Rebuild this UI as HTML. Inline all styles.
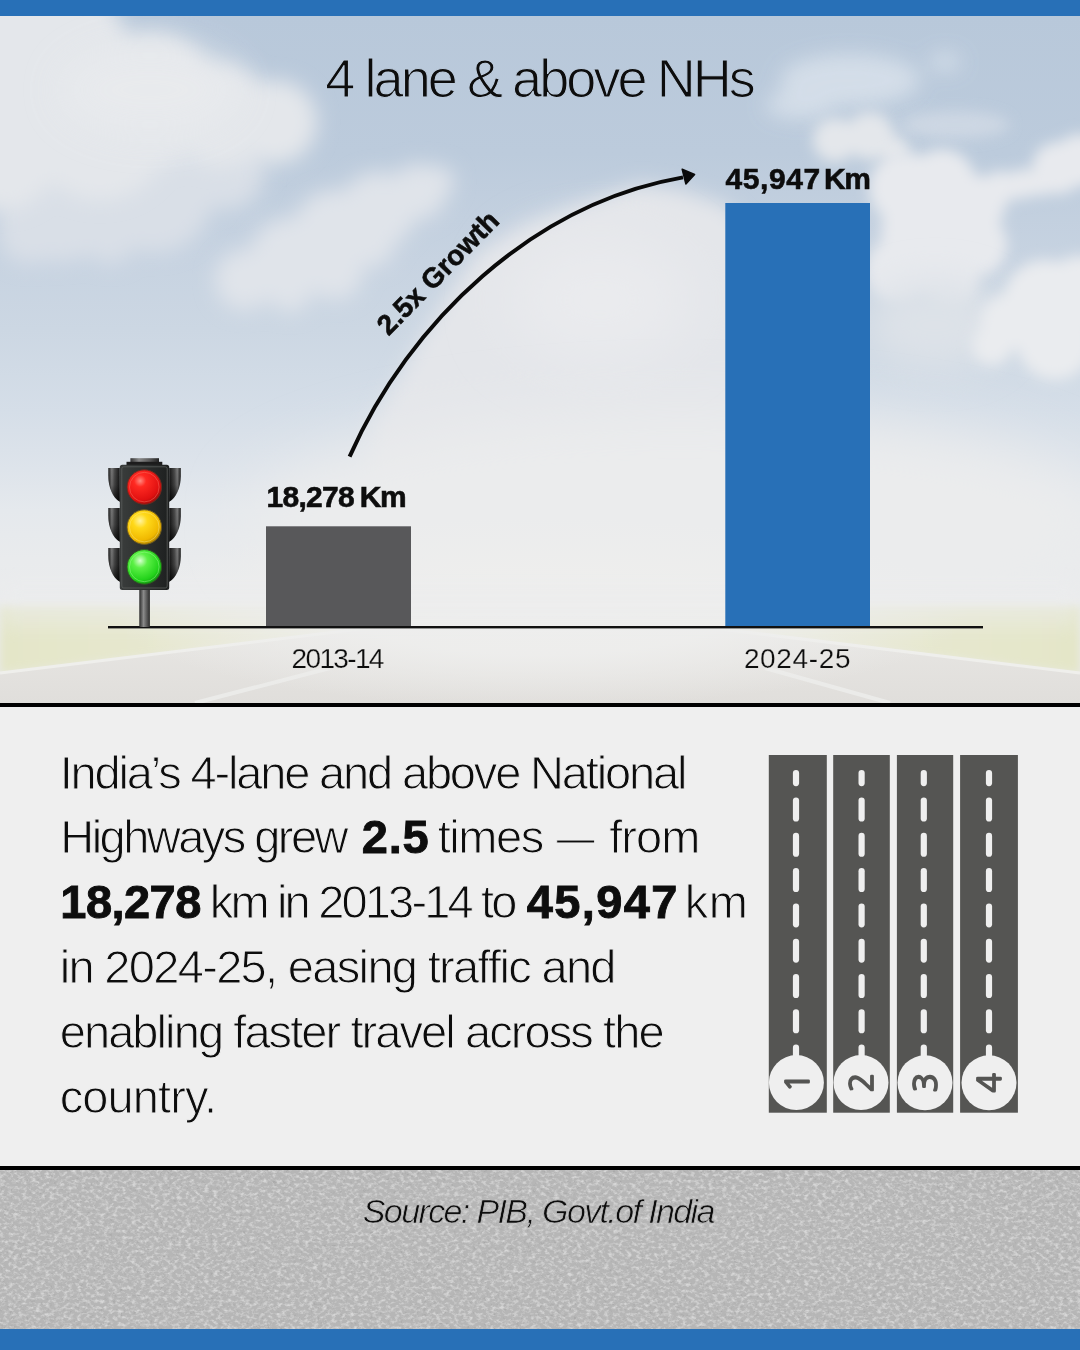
<!DOCTYPE html>
<html><head><meta charset="utf-8"><title>4 lane &amp; above NHs</title>
<style>
*{box-sizing:border-box;margin:0;padding:0}
html,body{width:1080px;height:1350px;overflow:hidden;background:#efefef}
body{position:relative;font-family:"Liberation Sans",Arial,sans-serif;color:#111}
.abs{position:absolute}
#hero svg{left:0;top:0}
#topbar{left:0;top:0;width:1080px;height:16px;background:#2870b7}
#hero{left:0;top:16px;width:1080px;height:687px;overflow:hidden;background:linear-gradient(180deg,#b9cbe0 0px,#c3d2e3 200px,#d6dfe9 380px,#e6eaee 520px,#eceeef 600px,#e9e9e6 700px)}
#rule1{left:0;top:703px;width:1080px;height:4px;background:#000}
#mid{left:0;top:707px;width:1080px;height:459px;background:#efefef}
#rule2{left:0;top:1166px;width:1080px;height:4px;background:#000}
#foot{left:0;top:1170px;width:1080px;height:159px;background:#b1b1b1;overflow:hidden}
#botbar{left:0;top:1329px;width:1080px;height:21px;background:#2870b7}
.t{position:absolute;white-space:nowrap;line-height:1}
</style></head>
<body>
<div id="topbar" class="abs"></div>
<div id="hero" class="abs"><svg class="abs" style="left:0;top:0" width="1080" height="687" viewBox="0 16 1080 687">
<defs>
<linearGradient id="sky" x1="0" y1="16" x2="0" y2="703" gradientUnits="userSpaceOnUse">
<stop offset="0" stop-color="#b8c8da"/>
<stop offset="0.2" stop-color="#bccbdc"/>
<stop offset="0.355" stop-color="#c7d3e1"/>
<stop offset="0.457" stop-color="#ccd7e3"/>
<stop offset="0.575" stop-color="#d5dee8"/>
<stop offset="0.66" stop-color="#dee4eb"/>
<stop offset="0.72" stop-color="#e5e9ed"/>
<stop offset="0.79" stop-color="#e9ebed"/>
<stop offset="0.86" stop-color="#ebeced"/>
<stop offset="1" stop-color="#e9e9e8"/>
</linearGradient>
<filter id="b30" x="-50%" y="-50%" width="200%" height="200%"><feGaussianBlur stdDeviation="30"/></filter>
<filter id="b18" x="-50%" y="-50%" width="200%" height="200%"><feGaussianBlur stdDeviation="18"/></filter>
<filter id="b10" x="-50%" y="-50%" width="200%" height="200%"><feGaussianBlur stdDeviation="10"/></filter>
<filter id="b7" x="-50%" y="-50%" width="200%" height="200%"><feGaussianBlur stdDeviation="7"/></filter>
<filter id="b4" x="-50%" y="-50%" width="200%" height="200%"><feGaussianBlur stdDeviation="4"/></filter>
<filter id="b2" x="-50%" y="-50%" width="200%" height="200%"><feGaussianBlur stdDeviation="1.5"/></filter>
</defs>
<rect x="0" y="16" width="1080" height="687" fill="url(#sky)"/>
<!-- cloud A -->
<g fill="#d9dfe7" filter="url(#b10)">
<circle cx="60" cy="200" r="62"/><circle cx="155" cy="195" r="58"/><circle cx="225" cy="170" r="40"/><circle cx="30" cy="232" r="32"/><circle cx="110" cy="238" r="26"/>
</g>
<g fill="#e4e7eb" filter="url(#b10)">
<circle cx="40" cy="60" r="90"/><circle cx="150" cy="100" r="68"/><circle cx="220" cy="115" r="52"/><circle cx="275" cy="122" r="42"/><circle cx="100" cy="130" r="70"/><circle cx="0" cy="150" r="60"/>
</g>
<g fill="#e9ebee" opacity="0.8" filter="url(#b18)"><ellipse cx="150" cy="90" rx="90" ry="45"/></g>
<!-- cloud B -->
<g fill="#e0e4ea" filter="url(#b10)">
<circle cx="245" cy="280" r="30"/><circle cx="290" cy="258" r="40"/><circle cx="335" cy="232" r="42"/><circle cx="378" cy="210" r="38"/><circle cx="418" cy="192" r="28"/><circle cx="438" cy="182" r="16"/>
<circle cx="290" cy="290" r="22"/><circle cx="335" cy="272" r="28"/><circle cx="372" cy="245" r="22"/>
</g>
<!-- right wisps -->
<g fill="#d7e0ea" opacity="0.9" filter="url(#b10)"><ellipse cx="850" cy="80" rx="70" ry="26"/><ellipse cx="800" cy="105" rx="35" ry="14"/><ellipse cx="945" cy="62" rx="16" ry="9"/></g>
<g fill="#d5dde7" opacity="0.7" filter="url(#b7)"><ellipse cx="955" cy="125" rx="55" ry="14"/></g>
<!-- cloud D -->
<g fill="#e4e7eb" filter="url(#b7)">
<circle cx="835" cy="140" r="22"/><circle cx="870" cy="136" r="24"/><circle cx="895" cy="150" r="14"/>
</g>
<!-- cloud 1 (right bank) -->
<g fill="#e8eaee" filter="url(#b7)">
<circle cx="905" cy="188" r="36"/><circle cx="942" cy="182" r="33"/><circle cx="975" cy="205" r="30"/>
<circle cx="925" cy="232" r="44"/><circle cx="975" cy="245" r="32"/><circle cx="900" cy="270" r="34"/><circle cx="950" cy="282" r="28"/>
<circle cx="1058" cy="168" r="26"/><circle cx="1000" cy="188" r="17"/><circle cx="1022" cy="184" r="15"/><circle cx="1080" cy="160" r="26"/><circle cx="1040" cy="182" r="14"/>
</g>
<g fill="#dde2e8" filter="url(#b18)"><ellipse cx="935" cy="325" rx="70" ry="45"/></g>
<!-- cloud 2 (lower right) -->
<g fill="#eaecef" filter="url(#b7)">
<circle cx="1045" cy="302" r="42"/><circle cx="1080" cy="292" r="36"/><circle cx="1008" cy="322" r="28"/><circle cx="992" cy="345" r="20"/><circle cx="1055" cy="342" r="38"/>
</g>
<!-- cloud G -->
<g fill="#e4e6ea" filter="url(#b10)">
<path d="M370,430 L420,340 L447,296 L479,252 L526,224 L576,205 L639,184 L680,190 L725,205 L760,240 L760,620 L370,620 Z"/>
</g>
<g fill="#eaebee" filter="url(#b30)"><ellipse cx="600" cy="300" rx="90" ry="60"/></g>
<!-- haze -->
<g fill="#ebeced" filter="url(#b30)"><ellipse cx="680" cy="520" rx="430" ry="110"/></g>
<!-- ground -->
<defs>
<radialGradient id="haze" cx="540" cy="612" r="430" gradientUnits="userSpaceOnUse" gradientTransform="translate(540 612) scale(1 0.22) translate(-540 -612)">
<stop offset="0" stop-color="#eeeeed" stop-opacity="1"/>
<stop offset="0.45" stop-color="#eeeeed" stop-opacity="0.9"/>
<stop offset="1" stop-color="#eeeeed" stop-opacity="0"/>
</radialGradient>
<linearGradient id="grassL" x1="0" y1="0" x2="540" y2="0" gradientUnits="userSpaceOnUse"><stop offset="0" stop-color="#e4e6c8"/><stop offset="0.6" stop-color="#e9e9d6"/><stop offset="1" stop-color="#ecece6"/></linearGradient>
<linearGradient id="grassR" x1="1080" y1="0" x2="540" y2="0" gradientUnits="userSpaceOnUse"><stop offset="0" stop-color="#e4e6c8"/><stop offset="0.6" stop-color="#e9e9d6"/><stop offset="1" stop-color="#ecece6"/></linearGradient>
<linearGradient id="road" x1="0" y1="606" x2="0" y2="703" gradientUnits="userSpaceOnUse"><stop offset="0" stop-color="#eae9e6"/><stop offset="1" stop-color="#e0dedb"/></linearGradient>
</defs>
<g>
<polygon points="0,606 540,606 540,612 0,674" fill="url(#grassL)" filter="url(#b4)"/>
<polygon points="1080,606 540,606 540,612 1080,674" fill="url(#grassR)" filter="url(#b4)"/>
<polygon points="0,674 540,607 1080,674 1080,703 0,703" fill="url(#road)"/>
<line x1="0" y1="673" x2="540" y2="607" stroke="#efefec" stroke-width="3"/>
<line x1="1080" y1="673" x2="540" y2="607" stroke="#efefec" stroke-width="3"/>
<line x1="195" y1="703" x2="330" y2="668" stroke="#ebebe9" stroke-width="4"/>
<line x1="765" y1="668" x2="890" y2="703" stroke="#ebebe9" stroke-width="4"/>
<rect x="0" y="520" width="1080" height="183" fill="url(#haze)"/>
<rect x="0" y="585" width="1080" height="40" fill="#ecedee" opacity="0.5" filter="url(#b10)"/>
</g>
</svg>
</div>
<div id="rule1" class="abs"></div>
<div id="mid" class="abs"></div>
<div id="rule2" class="abs"></div>
<div id="foot" class="abs"><svg width="1080" height="159" viewBox="0 0 1080 159" style="display:block">
<defs>
<filter id="asphL" x="0" y="0" width="100%" height="100%" color-interpolation-filters="sRGB">
<feTurbulence type="fractalNoise" baseFrequency="0.22 0.3" numOctaves="3" seed="7"/>
<feColorMatrix type="matrix" values="0 0 0 0 0.86  0 0 0 0 0.86  0 0 0 0 0.86  2.6 0 0 0 -1.15"/>
</filter>
<filter id="asphD" x="0" y="0" width="100%" height="100%" color-interpolation-filters="sRGB">
<feTurbulence type="fractalNoise" baseFrequency="0.3 0.36" numOctaves="2" seed="19"/>
<feColorMatrix type="matrix" values="0 0 0 0 0.55  0 0 0 0 0.55  0 0 0 0 0.55  -2.4 0 0 0 0.95"/>
</filter>
</defs>
<rect width="1080" height="159" fill="#b6b6b6"/>
<rect width="1080" height="159" filter="url(#asphD)" opacity="0.5"/>
<rect width="1080" height="159" filter="url(#asphL)" opacity="0.9"/>
</svg></div>
<div id="botbar" class="abs"></div>

<svg class="abs" style="left:0;top:0" width="1080" height="1350" viewBox="0 0 1080 1350">
<defs>
<radialGradient id="gRed" cx="0.38" cy="0.32" r="0.7"><stop offset="0" stop-color="#ff8a80"/><stop offset="0.25" stop-color="#ff2a22"/><stop offset="0.8" stop-color="#e01010"/><stop offset="1" stop-color="#a50d0a"/></radialGradient>
<radialGradient id="gYel" cx="0.38" cy="0.32" r="0.7"><stop offset="0" stop-color="#fff3a0"/><stop offset="0.3" stop-color="#ffd91a"/><stop offset="0.8" stop-color="#f0b800"/><stop offset="1" stop-color="#b98a00"/></radialGradient>
<radialGradient id="gGrn" cx="0.38" cy="0.32" r="0.7"><stop offset="0" stop-color="#d8ffd0"/><stop offset="0.3" stop-color="#5cf046"/><stop offset="0.8" stop-color="#22d21a"/><stop offset="1" stop-color="#139a10"/></radialGradient>
<linearGradient id="gBody" x1="0" y1="0" x2="1" y2="0"><stop offset="0" stop-color="#3a3d3c"/><stop offset="0.5" stop-color="#2c2f2e"/><stop offset="1" stop-color="#1e2020"/></linearGradient>
<linearGradient id="gVisL" x1="0" y1="0" x2="1" y2="0"><stop offset="0" stop-color="#1c1c1c"/><stop offset="0.3" stop-color="#7a7a7a"/><stop offset="0.55" stop-color="#4a4a4a"/><stop offset="1" stop-color="#151515"/></linearGradient>
<linearGradient id="gVisR" x1="1" y1="0" x2="0" y2="0"><stop offset="0" stop-color="#1c1c1c"/><stop offset="0.3" stop-color="#7a7a7a"/><stop offset="0.55" stop-color="#4a4a4a"/><stop offset="1" stop-color="#151515"/></linearGradient>
<linearGradient id="gVisShade" x1="0" y1="0" x2="0" y2="1"><stop offset="0" stop-color="#000" stop-opacity="0"/><stop offset="0.5" stop-color="#000" stop-opacity="0.15"/><stop offset="1" stop-color="#000" stop-opacity="0.75"/></linearGradient>
<linearGradient id="gCap" x1="0" y1="0" x2="1" y2="0"><stop offset="0" stop-color="#333"/><stop offset="0.3" stop-color="#8a8a8a"/><stop offset="0.7" stop-color="#555"/><stop offset="1" stop-color="#222"/></linearGradient>
<linearGradient id="gPole" x1="0" y1="0" x2="1" y2="0"><stop offset="0" stop-color="#2a2a2a"/><stop offset="0.4" stop-color="#8a8a8a"/><stop offset="1" stop-color="#2a2a2a"/></linearGradient>
</defs>
<!-- bars -->
<rect x="266" y="526.3" width="145" height="101" fill="#58585a"/>
<rect x="725.3" y="203" width="144.7" height="424" fill="#2870b7"/>
<!-- axis -->
<rect x="108" y="626" width="875" height="2.4" fill="#111"/>
<!-- arrow -->
<path d="M349.6,456.6 C409.6,321.4 532.7,203.8 683,177.4" fill="none" stroke="#0a0a0a" stroke-width="4" stroke-linecap="butt"/>
<path d="M682.2,169.3 L694.6,174.4 L685.9,184 Z" fill="#0a0a0a" stroke="#0a0a0a" stroke-width="1.5" stroke-linejoin="round"/>
<!-- traffic light -->
<g id="tl">
<rect x="139.3" y="588" width="10.6" height="39" fill="url(#gPole)"/>
<rect x="130.4" y="458.2" width="28.6" height="4" fill="url(#gCap)"/>
<rect x="126.5" y="461.8" width="35.8" height="3.5" fill="#1c1c1c"/>
<g>
<path d="M108.3,467.9 H119.8 V501.7 C113,497.7 108.3,487.7 108.3,475.9 Z" fill="url(#gVisL)"/><path d="M108.3,467.9 H119.8 V501.7 C113,497.7 108.3,487.7 108.3,475.9 Z" fill="url(#gVisShade)"/>
<path d="M180.8,467.9 H169.2 V501.7 C176,497.7 180.8,487.7 180.8,475.9 Z" fill="url(#gVisR)"/><path d="M180.8,467.9 H169.2 V501.7 C176,497.7 180.8,487.7 180.8,475.9 Z" fill="url(#gVisShade)"/>
<path d="M108.3,507.9 H119.8 V541.7 C113,537.7 108.3,527.7 108.3,515.9 Z" fill="url(#gVisL)"/><path d="M108.3,507.9 H119.8 V541.7 C113,537.7 108.3,527.7 108.3,515.9 Z" fill="url(#gVisShade)"/>
<path d="M180.8,507.9 H169.2 V541.7 C176,537.7 180.8,527.7 180.8,515.9 Z" fill="url(#gVisR)"/><path d="M180.8,507.9 H169.2 V541.7 C176,537.7 180.8,527.7 180.8,515.9 Z" fill="url(#gVisShade)"/>
<path d="M108.3,547.9 H119.8 V581.7 C113,577.7 108.3,567.7 108.3,555.9 Z" fill="url(#gVisL)"/><path d="M108.3,547.9 H119.8 V581.7 C113,577.7 108.3,567.7 108.3,555.9 Z" fill="url(#gVisShade)"/>
<path d="M180.8,547.9 H169.2 V581.7 C176,577.7 180.8,567.7 180.8,555.9 Z" fill="url(#gVisR)"/><path d="M180.8,547.9 H169.2 V581.7 C176,577.7 180.8,567.7 180.8,555.9 Z" fill="url(#gVisShade)"/>
</g>
<rect x="119.8" y="464.8" width="49.4" height="125.2" rx="2.5" fill="url(#gBody)"/>
<rect x="121.8" y="466.8" width="45.4" height="121.2" rx="2" fill="none" stroke="#5a5e5c" stroke-width="0.8"/>
<circle cx="144.3" cy="487.1" r="17.3" fill="url(#gRed)" stroke="#6d2a20" stroke-width="1"/>
<circle cx="144.3" cy="487.1" r="14.8" fill="none" stroke="#ff7a6a" stroke-width="0.8" opacity="0.55"/>
<circle cx="144.3" cy="527.1" r="17.3" fill="url(#gYel)" stroke="#6d5a20" stroke-width="1"/>
<circle cx="144.3" cy="527.1" r="14.8" fill="none" stroke="#fff08a" stroke-width="0.8" opacity="0.55"/>
<circle cx="144.3" cy="566.9" r="17.3" fill="url(#gGrn)" stroke="#2d5a20" stroke-width="1"/>
<circle cx="144.3" cy="566.9" r="14.8" fill="none" stroke="#a8ff9a" stroke-width="0.8" opacity="0.55"/>
</g>
<!-- text -->
<g font-family="Liberation Sans, Arial, sans-serif" fill="#0d0d0d">
<text x="325.3" y="97.2" font-size="54" textLength="430.5" lengthAdjust="spacing" stroke="#bccbdc" stroke-width="1.1">4 lane &amp; above NHs</text>
<text transform="translate(388.5,336.5) rotate(-45.5)" font-size="28" font-weight="bold" stroke="#0d0d0d" stroke-width="0.6">2.5x Growth</text>
<!--LAB-->
<text x="725.4" y="189.2" textLength="94.8" lengthAdjust="spacing" font-size="30" font-weight="bold" stroke="#0d0d0d" stroke-width="0.6">45,947</text>
<text x="823.9" y="189.2" textLength="47.0" lengthAdjust="spacing" font-size="30" font-weight="bold" stroke="#0d0d0d" stroke-width="0.6">Km</text>
<text x="266.5" y="506.7" textLength="88.2" lengthAdjust="spacing" font-size="30" font-weight="bold" stroke="#0d0d0d" stroke-width="0.6">18,278</text>
<text x="359.7" y="506.7" textLength="47.0" lengthAdjust="spacing" font-size="30" font-weight="bold" stroke="#0d0d0d" stroke-width="0.6">Km</text>
<text x="291.6" y="667.5" textLength="92.8" lengthAdjust="spacing" font-size="28" stroke="#e3e2df" stroke-width="0.25">2013-14</text>
<text x="743.9" y="667.5" textLength="106.6" lengthAdjust="spacing" font-size="28" stroke="#e3e2df" stroke-width="0.25">2024-25</text>
<!--/LAB-->
</g>
<g font-family="Liberation Sans, Arial, sans-serif" fill="#0d0d0d" font-size="47" stroke="#efefef" stroke-width="1">
<text x="59.7" y="788.6" textLength="627.7" lengthAdjust="spacing">India’s 4-lane and above National</text>
<!--L23-->
<text x="60.3" y="853.4" textLength="288.2" lengthAdjust="spacing">Highways grew</text>
<text x="361.7" y="853.4" textLength="67.0" lengthAdjust="spacing" font-weight="bold" stroke="#0d0d0d" stroke-width="0.9">2.5</text>
<text x="437.7" y="853.4" textLength="106.6" lengthAdjust="spacing">times</text>
<text x="556.7" y="853.4" textLength="37.8" lengthAdjust="spacingAndGlyphs">—</text>
<text x="609.3" y="853.4" textLength="91.0" lengthAdjust="spacing">from</text>
<text x="60.3" y="918.1" textLength="141.0" lengthAdjust="spacing" font-weight="bold" stroke="#0d0d0d" stroke-width="0.9">18,278</text>
<text x="209.7" y="918.1" textLength="307.8" lengthAdjust="spacing">km in 2013-14 to</text>
<text x="526.7" y="918.1" textLength="150.8" lengthAdjust="spacing" font-weight="bold" stroke="#0d0d0d" stroke-width="0.9">45,947</text>
<text x="684.7" y="918.1" textLength="63.2" lengthAdjust="spacing">km</text>
<!--/L23-->
<text x="59.7" y="983.4" textLength="556.8" lengthAdjust="spacing">in 2024-25, easing traffic and</text>
<text x="59.7" y="1048.2" textLength="604.9" lengthAdjust="spacing">enabling faster travel across the</text>
<text x="59.7" y="1113" textLength="157.4" lengthAdjust="spacing">country.</text>
</g>
<text x="362.8" y="1222.5" font-family="Liberation Sans, Arial, sans-serif" font-style="italic" font-size="34" fill="#0d0d0d" stroke="#bababa" stroke-width="0.7" textLength="352.6" lengthAdjust="spacing">Source: PIB, Govt.of India</text>
<!-- lanes -->
<g id="lanes">
<rect x="768.8" y="755" width="58" height="357.7" fill="#555553"/>
<rect x="833.2" y="755" width="56.6" height="357.7" fill="#555553"/>
<rect x="896.9" y="755" width="56.3" height="357.7" fill="#555553"/>
<rect x="960.1" y="755" width="57.8" height="357.7" fill="#555553"/>
<g stroke="#efefef" stroke-width="6.2" stroke-linecap="round" fill="none">
<line x1="796.0" y1="773.1" x2="796.0" y2="783.1"/>
<line x1="796.0" y1="800.6" x2="796.0" y2="818.4"/>
<line x1="796.0" y1="835.9" x2="796.0" y2="853.7"/>
<line x1="796.0" y1="871.2" x2="796.0" y2="889.0"/>
<line x1="796.0" y1="906.5" x2="796.0" y2="924.3"/>
<line x1="796.0" y1="941.8" x2="796.0" y2="959.6"/>
<line x1="796.0" y1="977.1" x2="796.0" y2="994.9"/>
<line x1="796.0" y1="1012.4" x2="796.0" y2="1030.2"/>
<line x1="796.0" y1="1047.7" x2="796.0" y2="1058.9"/>
<line x1="861.6" y1="773.1" x2="861.6" y2="783.1"/>
<line x1="861.6" y1="800.6" x2="861.6" y2="818.4"/>
<line x1="861.6" y1="835.9" x2="861.6" y2="853.7"/>
<line x1="861.6" y1="871.2" x2="861.6" y2="889.0"/>
<line x1="861.6" y1="906.5" x2="861.6" y2="924.3"/>
<line x1="861.6" y1="941.8" x2="861.6" y2="959.6"/>
<line x1="861.6" y1="977.1" x2="861.6" y2="994.9"/>
<line x1="861.6" y1="1012.4" x2="861.6" y2="1030.2"/>
<line x1="861.6" y1="1047.7" x2="861.6" y2="1058.9"/>
<line x1="923.8" y1="773.1" x2="923.8" y2="783.1"/>
<line x1="923.8" y1="800.6" x2="923.8" y2="818.4"/>
<line x1="923.8" y1="835.9" x2="923.8" y2="853.7"/>
<line x1="923.8" y1="871.2" x2="923.8" y2="889.0"/>
<line x1="923.8" y1="906.5" x2="923.8" y2="924.3"/>
<line x1="923.8" y1="941.8" x2="923.8" y2="959.6"/>
<line x1="923.8" y1="977.1" x2="923.8" y2="994.9"/>
<line x1="923.8" y1="1012.4" x2="923.8" y2="1030.2"/>
<line x1="923.8" y1="1047.7" x2="923.8" y2="1058.9"/>
<line x1="989.0" y1="773.1" x2="989.0" y2="783.1"/>
<line x1="989.0" y1="800.6" x2="989.0" y2="818.4"/>
<line x1="989.0" y1="835.9" x2="989.0" y2="853.7"/>
<line x1="989.0" y1="871.2" x2="989.0" y2="889.0"/>
<line x1="989.0" y1="906.5" x2="989.0" y2="924.3"/>
<line x1="989.0" y1="941.8" x2="989.0" y2="959.6"/>
<line x1="989.0" y1="977.1" x2="989.0" y2="994.9"/>
<line x1="989.0" y1="1012.4" x2="989.0" y2="1030.2"/>
<line x1="989.0" y1="1047.7" x2="989.0" y2="1058.9"/>
</g>
<g fill="#efefef">
<circle cx="796.4" cy="1082.6" r="27.5"/>
<circle cx="861" cy="1082.6" r="27.5"/>
<circle cx="925" cy="1082.8" r="27.5"/>
<circle cx="989" cy="1082.8" r="27.5"/>
</g>
<g font-family="NanumGothic, Liberation Sans, sans-serif" font-size="33" fill="#555553" stroke="#555553" stroke-width="1.8" stroke-linejoin="round" stroke-linecap="round" text-anchor="middle">
<text transform="translate(796.4,1082.6) rotate(-90)" y="12.3">1</text>
<text transform="translate(861,1082.6) rotate(-90)" y="12.3">2</text>
<text transform="translate(925,1082.8) rotate(-90)" y="12.3">3</text>
<text transform="translate(989,1082.8) rotate(-90)" y="12.3">4</text>
</g>
</g>
</svg>

</body></html>
